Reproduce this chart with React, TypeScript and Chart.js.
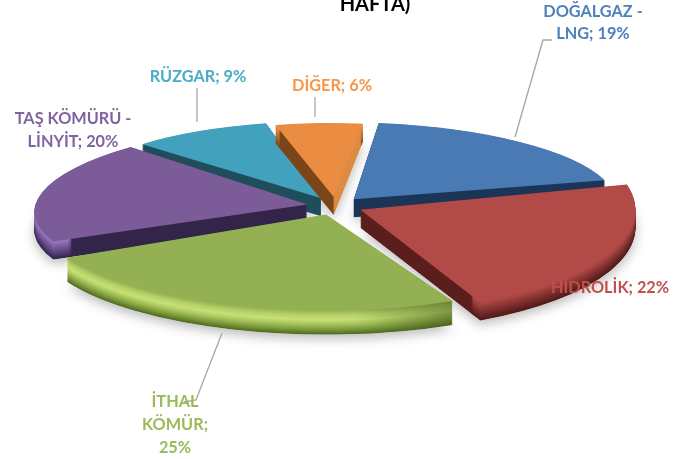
import React, { useEffect, useRef } from "react";
import { Chart, registerables } from "chart.js";

Chart.register(...registerables);

const categories = ["DOĞALGAZ - LNG", "HİDROLİK", "İTHAL KÖMÜR", "TAŞ KÖMÜRÜ - LİNYİT", "RÜZGAR", "DİĞER"];
const shares = [19, 22, 25, 20, 9, 6];
const faceColors = ["#4A7AB3", "#B24A47", "#93B053", "#7B5C99", "#42A1BD", "#EA8C41"];
const textColors = ["#4F81BD", "#C0504D", "#9BBB59", "#8064A2", "#4BACC6", "#F79646"];
const wallColors = ["#1B3557", "#5A1E1C", "#B0CC62", "#33244A", "#1F4D5C", "#7A4518"];
const wallRightColors = ["#1B3557", "#5A1E1C", "#4A6020", "#33244A", "#1F4D5C", "#DD8A42"];
const rimColors = [
  ["#1B3557", "#1B3557"],
  ["#B24A47", "#80302E", "#4F1A18"],
  ["#93B053", "#B5D066", "#C6E076", "#A4C25A", "#7C9A3A", "#4F6A22"],
  ["#9C7BC4", "#6A4D8C", "#33244A"],
  ["#1F4D5C", "#1F4D5C"],
  ["#EA8C41", "#B86A2C", "#7A4518"],
];
const rimRightShade = [0, 0, 0.6, 0, 0, 0];
const labelLines = [
  ["DOĞALGAZ -", "LNG; 19%"],
  ["HİDROLİK; 22%"],
  ["İTHAL", "KÖMÜR;", "25%"],
  ["TAŞ KÖMÜRÜ -", "LİNYİT; 20%"],
  ["RÜZGAR; 9%"],
  ["DİĞER; 6%"],
];
const titleText = "HAFTA)";

// layout (pixels of the 698x459 picture)
const W = 698, H = 459;
const CENTER = { x: 335, y: 206 };
const SLICE_RX = [262, 275, 290, 272, 255, 236];
const SLICE_RY = [77, 103, 96, 82, 77, 74];
const SLICE_SHEAR = [0.15, 0, 0, -0.3, -0.05, 0.05];
const SLICE_DEPTH = [18, 18, 24, 18, 18, 18];
const EXPLODE_X = 28, EXPLODE_Y = 9;
const DRAW_ORDER = [4, 5, 0, 3, 1, 2];
const LABEL_POS = [
  { x: 593, y: 12, step: 22 },
  { x: 610, y: 288, step: 22 },
  { x: 175, y: 402, step: 23 },
  { x: 73, y: 119, step: 23 },
  { x: 198, y: 77, step: 22 },
  { x: 332, y: 86, step: 22 },
];
const LEADERS = [
  [[515, 137], [543, 40], [552, 40]],
  [[222, 333], [196, 400], [184, 402]],
  [[197, 122], [197, 88]],
  [[315, 117], [315, 97]],
];

function hexToRgb(h: string) {
  const n = parseInt(h.slice(1), 16);
  return [(n >> 16) & 255, (n >> 8) & 255, n & 255];
}
function mix(a: string, b: string, t: number) {
  const A = hexToRgb(a), B = hexToRgb(b);
  return [0, 1, 2].map((i) => Math.round(A[i] + (B[i] - A[i]) * t));
}
function rimAt(stops: string[], t: number) {
  const p = t * (stops.length - 1);
  const i = Math.min(Math.floor(p), stops.length - 2);
  return mix(stops[i], stops[i + 1], p - i);
}

const solidPie = {
  id: "solidPie",
  beforeDatasetDraw(chart: any) {
    const ctx = chart.ctx as CanvasRenderingContext2D;
    const arcs = chart.getDatasetMeta(0).data;

    const place = (arc: any, i: number, dy: number) => {
      const mid = (arc.startAngle + arc.endAngle) / 2;
      const fromUp = mid + Math.PI / 2;
      const sx = SLICE_RX[i] / arc.outerRadius;
      const sy = SLICE_RY[i] / arc.outerRadius;
      ctx.translate(CENTER.x + EXPLODE_X * Math.sin(fromUp), CENTER.y - EXPLODE_Y * Math.cos(fromUp) + dy);
      ctx.transform(sx, 0, SLICE_SHEAR[i] * sy, sy, 0, 0);
      ctx.translate(-arc.x, -arc.y);
    };
    const paint = (arc: any, fill: any) => {
      const keep = arc.options;
      const o = Object.create(keep);
      o.backgroundColor = fill;
      arc.options = o;
      arc.draw(ctx);
      arc.options = keep;
    };

    // soft shadow under all the slices
    ctx.save();
    ctx.shadowColor = "rgba(0,0,0,0.28)";
    ctx.shadowBlur = 12;
    ctx.shadowOffsetY = 4;
    DRAW_ORDER.forEach((i) => {
      ctx.save();
      place(arcs[i], i, SLICE_DEPTH[i]);
      paint(arcs[i], "#ffffff");
      ctx.restore();
    });
    ctx.restore();

    DRAW_ORDER.forEach((i) => {
      const arc = arcs[i];
      const R = arc.outerRadius;
      const depth = SLICE_DEPTH[i];
      for (let d = depth; d >= 0.5; d -= 0.5) {
        ctx.save();
        place(arc, i, d);
        // flat wall: only inside 94% of the radius, so it cannot fringe the rim
        ctx.save();
        ctx.beginPath();
        ctx.arc(arc.x, arc.y, 0.94 * R, 0, Math.PI * 2);
        ctx.clip();
        const w = ctx.createLinearGradient(arc.x - 1, 0, arc.x + 1, 0);
        w.addColorStop(0, wallColors[i]);
        w.addColorStop(1, wallRightColors[i]);
        paint(arc, w);
        ctx.restore();
        // outer rim only: everything beyond 93% of the radius
        ctx.beginPath();
        ctx.rect(arc.x - 3 * R, arc.y - 3 * R, 6 * R, 6 * R);
        ctx.arc(arc.x, arc.y, 0.93 * R, 0, Math.PI * 2);
        ctx.clip("evenodd");
        const c = rimAt(rimColors[i], d / depth);
        const dark = hexToRgb(wallRightColors[i]);
        const shaded = c.map((v, n) => Math.round(v + (dark[n] - v) * rimRightShade[i]));
        const lin = ctx.createLinearGradient(arc.x + 0.1 * R, 0, arc.x + 0.45 * R, 0);
        lin.addColorStop(0, `rgb(${c})`);
        lin.addColorStop(1, `rgb(${shaded})`);
        paint(arc, lin);
        ctx.restore();
      }
      ctx.save();
      place(arc, i, 0);
      paint(arc, faceColors[i]);
      ctx.restore();
    });
    return false;
  },
  afterDraw(chart: any) {
    const ctx = chart.ctx as CanvasRenderingContext2D;
    ctx.save();
    ctx.strokeStyle = "#A6A6A6";
    ctx.lineWidth = 1.3;
    LEADERS.forEach((pts) => {
      ctx.beginPath();
      pts.forEach(([x, y], i) => (i ? ctx.lineTo(x, y) : ctx.moveTo(x, y)));
      ctx.stroke();
    });
    ctx.font = "bold 16.3px Lato";
    ctx.textAlign = "center";
    ctx.textBaseline = "middle";
    labelLines.forEach((lines, i) => {
      ctx.fillStyle = textColors[i];
      lines.forEach((t, j) => ctx.fillText(t, LABEL_POS[i].x, LABEL_POS[i].y + j * LABEL_POS[i].step));
    });
    ctx.font = "bold 20px Lato";
    ctx.fillStyle = "#000000";
    ctx.fillText(titleText, 375, 5);
    ctx.restore();
  },
};

export default function App() {
  const ref = useRef<HTMLCanvasElement>(null);
  useEffect(() => {
    const chart = new Chart(ref.current as HTMLCanvasElement, {
      type: "pie",
      data: {
        labels: categories,
        datasets: [{ data: shares, backgroundColor: faceColors, borderWidth: 0 }],
      },
      options: {
        animation: false,
        responsive: false,
        rotation: 8,
        layout: { padding: 0 },
        plugins: { legend: { display: false }, tooltip: { enabled: false }, title: { display: false } },
      },
      plugins: [solidPie],
    } as any);
    return () => chart.destroy();
  }, []);
  return (
    <div style={{ position: "absolute", left: 0, top: 0, width: W, height: H, background: "#fff" }}>
      <canvas ref={ref} width={W} height={H} style={{ display: "block" }} />
    </div>
  );
}
